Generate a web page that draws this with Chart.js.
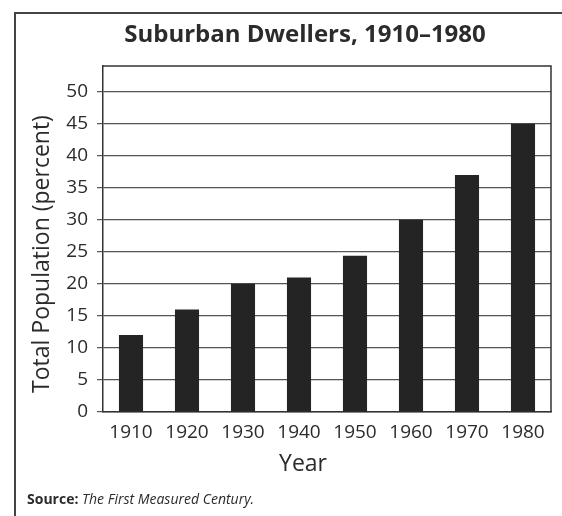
<!DOCTYPE html>
<html>
<head>
<meta charset="utf-8">
<script src="https://cdn.jsdelivr.net/npm/chart.js@4.4.1/dist/chart.umd.min.js"></script>
<style>
  html, body { margin: 0; padding: 0; background: #fff; }
  #wrap { width: 562px; height: 516px; position: relative; }
</style>
</head>
<body>
<div id="wrap"><canvas id="myChart" width="562" height="516"></canvas></div>
<script>
const years = ["1910", "1920", "1930", "1940", "1950", "1960", "1970", "1980"];
const suburbanPct = [12, 16, 20, 21, 24.4, 30, 37, 45];
const yTicks = [0, 5, 10, 15, 20, 25, 30, 35, 40, 45, 50];

const chartTitle = "Suburban Dwellers, 1910\u20131980";
const yTitle = "Total Population (percent)";
const xTitle = "Year";

const ink = "#2b2b2b";
const fontFamily = "'Open Sans', 'Noto Sans', sans-serif";

// frame, plot box and the texts around the chart
const decorations = {
  id: "decorations",
  beforeDraw(chart) {
    const c = chart.ctx;
    c.save();
    c.fillStyle = "#fff";
    c.fillRect(0, 0, chart.width, chart.height);
    c.restore();
  },
  afterDraw(chart) {
    const c = chart.ctx;
    const area = chart.chartArea;
    c.save();

    // outer frame (left + top)
    c.strokeStyle = "#444";
    c.lineWidth = 2;
    c.beginPath();
    c.moveTo(15, chart.height);
    c.lineTo(15, 13);
    c.lineTo(chart.width, 13);
    c.stroke();

    // plot box top + right
    c.strokeStyle = "#333";
    c.lineWidth = 1.5;
    c.beginPath();
    c.moveTo(area.left, area.top);
    c.lineTo(area.right, area.top);
    c.lineTo(area.right, area.bottom);
    c.stroke();

    c.fillStyle = ink;
    c.textAlign = "center";
    c.textBaseline = "alphabetic";

    c.font = "bold 24px " + fontFamily;
    c.fillText(chartTitle, 305, 42);

    c.font = "23px " + fontFamily;
    c.fillText(xTitle, 303, 471);

    c.save();
    c.translate(49, 254);
    c.rotate(-Math.PI / 2);
    c.fillText(yTitle, 0, 0);
    c.restore();

    c.textAlign = "left";
    c.font = "bold 14px " + fontFamily;
    c.fillText("Source:", 27, 504);
    const w = c.measureText("Source: ").width;
    c.font = "italic 14px " + fontFamily;
    c.fillText("The First Measured Century.", 27 + w, 504);

    c.restore();
  }
};

const ctx = document.getElementById("myChart");

new Chart(ctx, {
  type: "bar",
  data: {
    labels: years,
    datasets: [
      {
        label: "Suburban dwellers",
        data: suburbanPct,
        backgroundColor: "#242424",
        borderWidth: 0,
        barPercentage: 0.43,
        categoryPercentage: 1,
      },
    ],
  },
  options: {
    responsive: false,
    animation: false,
    layout: {
      padding: { top: 66, right: 11, left: 0, bottom: 0 },
    },
    plugins: {
      legend: { display: false },
      title: { display: false },
      tooltip: { enabled: false },
    },
    scales: {
      x: {
        grid: { display: false, drawTicks: false },
        border: { display: true, color: "#333", width: 1.5 },
        ticks: {
          color: ink,
          padding: 9,
          maxRotation: 0,
          font: { family: fontFamily, size: 19 },
        },
        afterFit(scale) {
          scale.height = 104;
        },
      },
      y: {
        min: 0,
        max: 54,
        grid: {
          color: "#555",
          lineWidth: 1.2,
          drawTicks: true,
          tickLength: 6,
        },
        border: { display: true, color: "#333", width: 1.5 },
        ticks: {
          color: ink,
          padding: 9,
          font: { family: fontFamily, size: 19 },
        },
        afterBuildTicks(scale) {
          scale.ticks = yTicks.map((v) => ({ value: v }));
        },
        afterFit(scale) {
          scale.width = 103;
        },
      },
    },
  },
  plugins: [decorations],
});
</script>
</body>
</html>
